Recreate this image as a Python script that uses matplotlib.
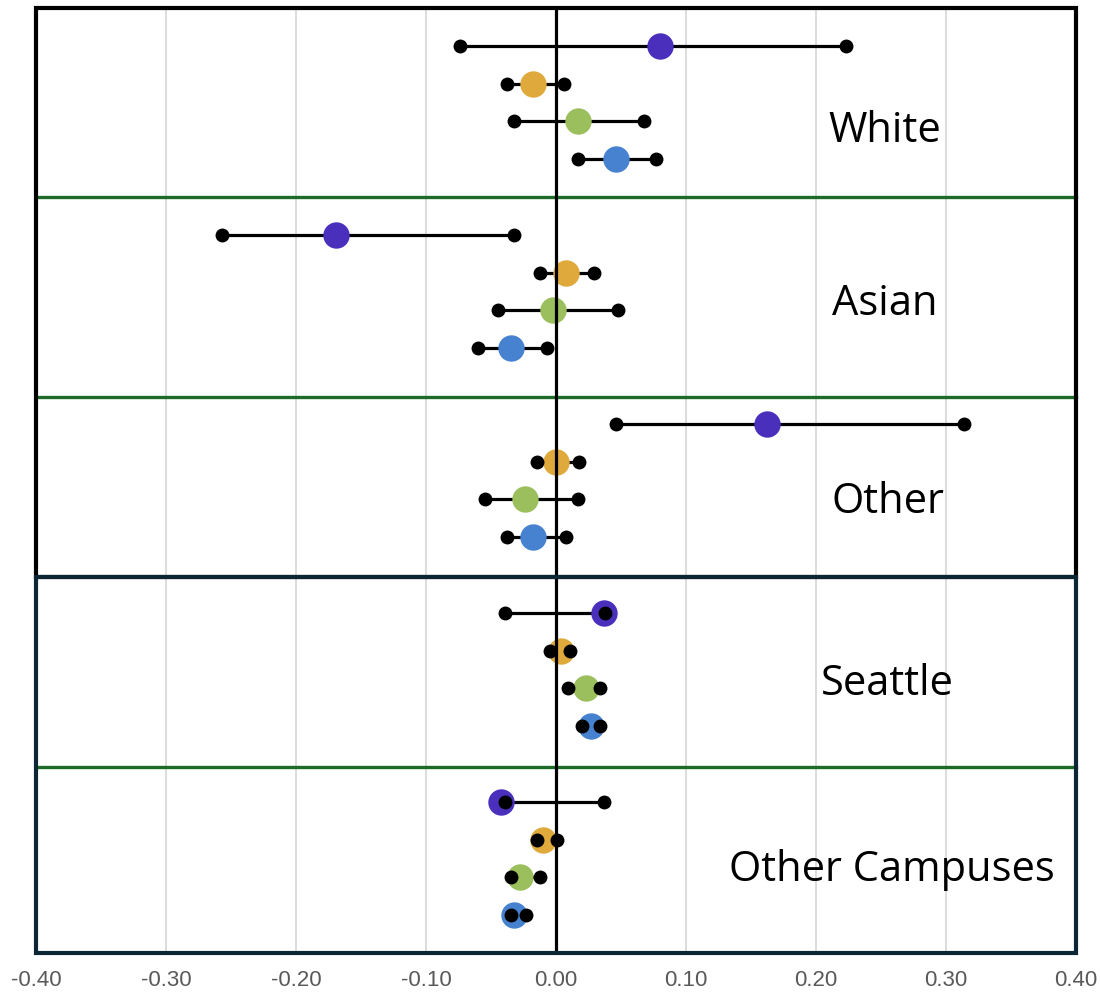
import matplotlib.pyplot as plt
from matplotlib.patches import Rectangle

# series order inside each group: purple, orange, green, blue
groups = ['White', 'Asian', 'Other', 'Seattle', 'Other Campuses']
colors = ['#4a2fbd', '#e0a93c', '#9bbf5c', '#4682d0']

est = [
    [0.080, -0.018, 0.017, 0.046],
    [-0.169, 0.008, -0.002, -0.035],
    [0.162, 0.000, -0.024, -0.018],
    [0.037, 0.004, 0.023, 0.027],
    [-0.042, -0.010, -0.028, -0.032],
]
lo = [
    [-0.074, -0.038, -0.032, 0.017],
    [-0.257, -0.012, -0.045, -0.060],
    [0.046, -0.015, -0.055, -0.038],
    [-0.039, -0.005, 0.009, 0.020],
    [-0.039, -0.015, -0.035, -0.035],
]
hi = [
    [0.223, 0.006, 0.068, 0.077],
    [-0.032, 0.029, 0.048, -0.007],
    [0.314, 0.018, 0.017, 0.008],
    [0.038, 0.011, 0.034, 0.034],
    [0.037, 0.001, -0.012, -0.023],
]
label_x = [0.253, 0.253, 0.255, 0.255, 0.258]
label_y = [3.25, 7.84, 13.07, 17.88, 22.81]
sep_y = [5.0, 10.3, 20.07]
box_split = 15.05

fig = plt.figure(figsize=(11, 9.98), dpi=100)
ax = fig.add_axes([36 / 1100, 1 - 953 / 998, 1040 / 1100, 945 / 998])

for g, name in enumerate(groups):
    for k in range(4):
        y = g * 5 + k + 1
        ax.plot([lo[g][k], hi[g][k]], [y, y], color='black', lw=2.3, zorder=2,
                solid_capstyle='butt')
        ax.plot(est[g][k], y, 'o', color=colors[k], ms=19, mec='none', zorder=3)
        ax.plot([lo[g][k], hi[g][k]], [y, y], 'o', color='black', ms=10,
                mec='none', zorder=4)
    ax.text(label_x[g], label_y[g], name, fontsize=30, family='Open Sans',
            ha='center', va='center', color='black', zorder=5)

ax.set_xlim(-0.4, 0.4)
ax.set_ylim(25, 0)
ax.set_xticks([-0.4, -0.3, -0.2, -0.1, 0.0, 0.1, 0.2, 0.3, 0.4])
ax.set_xticklabels(['%.2f' % v for v in ax.get_xticks()])
ax.set_yticks([])
ax.tick_params(axis='x', length=0, pad=12, labelsize=16, labelcolor='#595959')
for lab in ax.get_xticklabels():
    lab.set_family('Liberation Sans')
for s in ax.spines.values():
    s.set_visible(False)

for v in [-0.3, -0.2, -0.1, 0.1, 0.2, 0.3]:
    ax.axvline(v, color='#d9d9d9', lw=1.3, zorder=0)
ax.axvline(0, color='black', lw=2.3, zorder=6)

for y in sep_y:
    ax.plot([-0.4, 0.4], [y, y], color='#1e6b28', lw=2.4, zorder=1, clip_on=False)

ax.add_patch(Rectangle((-0.4, 0), 0.8, box_split, fill=False, ec='black',
                       lw=3, zorder=7, clip_on=False))
ax.add_patch(Rectangle((-0.4, box_split), 0.8, 25 - box_split, fill=False,
                       ec='#0d2635', lw=3, zorder=7, clip_on=False))

fig.savefig('out.png', dpi=100)
